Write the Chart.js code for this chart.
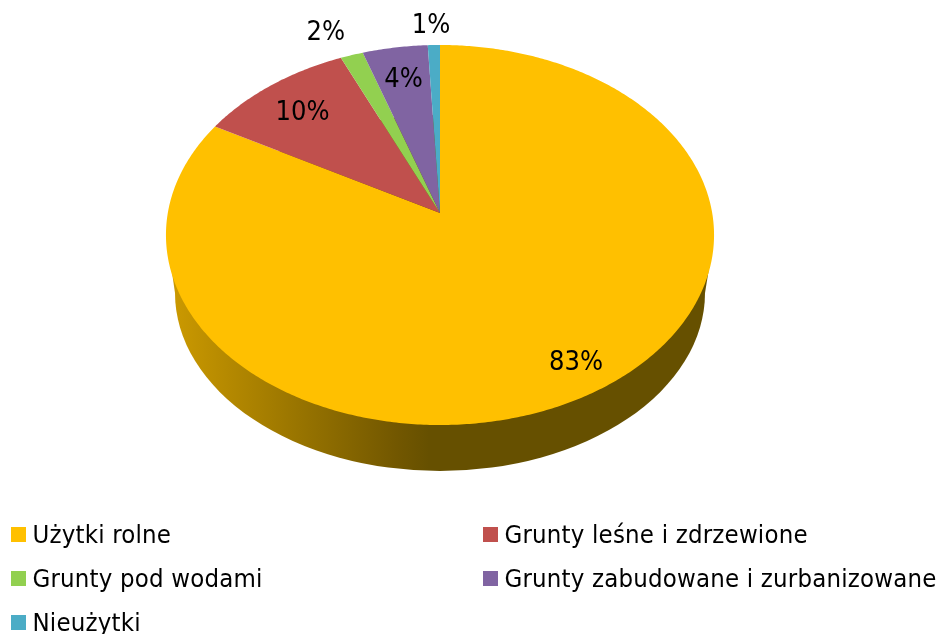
<!DOCTYPE html>
<html>
<head>
<meta charset="utf-8">
<script src="https://cdn.jsdelivr.net/npm/chart.js@4"></script>
<style>
  html, body { margin: 0; background: #fff; }
  #container { position: relative; width: 938px; height: 634px; overflow: hidden; }
  #landChart { display: block; }
  .legendItem { position: absolute; white-space: nowrap; color: #000; font: 25.5px "DejaVu Sans Condensed", "DejaVu Sans", sans-serif; letter-spacing: 0.2px; line-height: 30px; }
  .legendBox { position: absolute; left: 0; top: 7px; width: 15px; height: 15px; }
  .legendText { position: absolute; left: 21.5px; top: -1px; }
</style>
</head>
<body>
<div id="container">
  <canvas id="landChart" width="938" height="634"></canvas>
</div>
<script>
const landLabels = [
  'Użytki rolne',
  'Grunty leśne i zdrzewione',
  'Grunty pod wodami',
  'Grunty zabudowane i zurbanizowane',
  'Nieużytki'
];
const landShares = [83.1, 10.3, 1.5, 4.3, 0.8];
const sliceColors = ['#FFC000', '#C0504D', '#92D050', '#8064A2', '#4BACC6'];

// legend cells, two columns
const legendCols = [11, 483];
const legendRows = [520, 564, 608];

// where each percent goes, along the slice middle
const labelRadius = [0.844, 0.777, 1.165, 0.793, 1.135];
const labelShift = [9, -4, -13, 0, -2];
const labelFont = '27px "DejaVu Sans Condensed", "DejaVu Sans", sans-serif';

// tilted disc seen in perspective: top face and lower rim
const apexX = 440;
const apexY = 213;
const persp = -0.1158;
const spreadX = 272.2;
const spreadY = 162.8;
const lowerRim = { x: 440, y: 293, rx: 265, ry: 178 };

const project = (theta, r) => {
  const u = r * Math.sin(theta);
  const v = -r * Math.cos(theta);
  const w = 1 + persp * v;
  return { x: apexX + spreadX * u / w, y: (spreadY * v + apexY) / w };
};

const drawWall = (ctx) => {
  const grad = ctx.createLinearGradient(170, 0, 710, 0);
  grad.addColorStop(0, '#CC9A00');
  grad.addColorStop(0.24, '#987400');
  grad.addColorStop(0.42, '#725700');
  grad.addColorStop(0.48, '#665000');
  grad.addColorStop(1, '#665000');
  ctx.fillStyle = grad;
  ctx.beginPath();
  ctx.ellipse(lowerRim.x, lowerRim.y, lowerRim.rx, lowerRim.ry, 0, 0, Math.PI * 2);
  ctx.fill();
  ctx.beginPath();
  ctx.moveTo(170.5, 262);
  ctx.lineTo(175, 293);
  ctx.lineTo(705, 293);
  ctx.lineTo(710, 262);
  ctx.closePath();
  ctx.fill();
};

const perspectivePie = {
  id: 'perspectivePie',
  beforeDatasetsDraw(chart) {
    const ctx = chart.ctx;
    const arcs = chart.getDatasetMeta(0).data;
    ctx.save();
    drawWall(ctx);
    arcs.forEach((arc) => {
      const start = arc.startAngle + Math.PI / 2;
      const end = arc.endAngle + Math.PI / 2;
      const steps = Math.max(2, Math.ceil((end - start) / 0.01));
      ctx.beginPath();
      ctx.moveTo(apexX, apexY);
      for (let i = 0; i <= steps; i++) {
        const p = project(start + (end - start) * i / steps, 1);
        ctx.lineTo(p.x, p.y);
      }
      ctx.closePath();
      ctx.fillStyle = arc.options.backgroundColor;
      ctx.fill();
    });
    const total = landShares.reduce((a, b) => a + b, 0);
    ctx.fillStyle = '#000';
    ctx.font = labelFont;
    ctx.textAlign = 'center';
    ctx.textBaseline = 'middle';
    arcs.forEach((arc, i) => {
      const mid = (arc.startAngle + arc.endAngle) / 2 + Math.PI / 2;
      const p = project(mid, labelRadius[i]);
      ctx.fillText(Math.round(landShares[i] / total * 100) + '%', p.x + labelShift[i], p.y + 1);
    });
    ctx.restore();
    return false;
  }
};

const buildLegend = () => {
  const container = document.querySelector('#container');
  landLabels.forEach((label, i) => {
    const item = document.createElement('div');
    item.className = 'legendItem';
    item.style.left = legendCols[i % 2] + 'px';
    item.style.top = legendRows[Math.floor(i / 2)] + 'px';
    const box = document.createElement('span');
    box.className = 'legendBox';
    box.style.background = sliceColors[i];
    const text = document.createElement('span');
    text.className = 'legendText';
    text.textContent = label;
    item.appendChild(box);
    item.appendChild(text);
    container.appendChild(item);
  });
};

document.addEventListener('DOMContentLoaded', () => {
  buildLegend();
  new Chart(document.getElementById('landChart'), {
    type: 'pie',
    data: {
      labels: landLabels,
      datasets: [{ data: landShares, backgroundColor: sliceColors, borderWidth: 0 }]
    },
    options: {
      responsive: false,
      animation: false,
      plugins: { legend: { display: false }, tooltip: { enabled: false } }
    },
    plugins: [perspectivePie]
  });
});
</script>
</body>
</html>
